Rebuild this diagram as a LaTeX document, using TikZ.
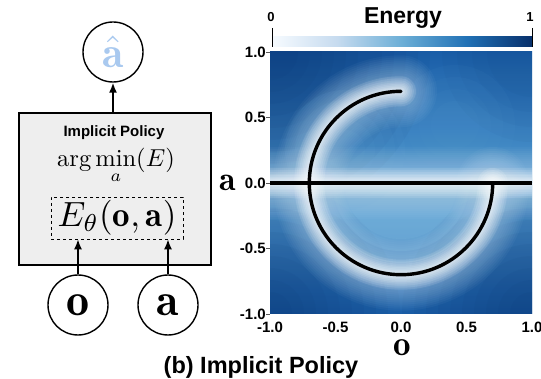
\documentclass[tikz,border=0pt]{standalone}
\usepackage{amsmath}
\usepackage{graphicx}
\usepackage{fontspec}
\newfontfamily\sansf{Liberation Sans}
\usetikzlibrary{arrows.meta}
\definecolor{hatblue}{HTML}{A9C9EF}
\definecolor{boxgray}{HTML}{EEEEEE}
\definecolor{bA}{HTML}{F7FBFF}
\definecolor{bB}{HTML}{C6DBEF}
\definecolor{bC}{HTML}{6BAED6}
\definecolor{bD}{HTML}{2171B5}
\definecolor{bE}{HTML}{08306B}
\definecolor{hdark}{HTML}{1A5EA8}
\definecolor{hmid}{HTML}{5A9FD2}
\definecolor{hlight}{HTML}{4F98CF}
\definecolor{hlight2}{HTML}{5DA3D5}
\definecolor{cdark}{HTML}{08306B}
\definecolor{semi}{HTML}{85BEE2}
\definecolor{glowc}{HTML}{C4DDF1}
\pgfdeclarehorizontalshading{bluesbar}{100bp}{color(0bp)=(bA); color(25bp)=(bA); color(37.5bp)=(bB); color(50bp)=(bC); color(62.5bp)=(bD); color(75bp)=(bE); color(100bp)=(bE)}
\tikzset{
  var/.style={circle, draw, line width=1.4pt, minimum size=60pt, inner sep=0pt},
  policybox/.style={draw, line width=1.6pt, fill=boxgray, minimum width=192pt, minimum height=152pt, inner sep=0pt},
  energybox/.style={draw, dashed, line width=0.7pt, minimum width=132pt, minimum height=42pt, inner sep=0pt},
  arr/.style={line width=1.6pt, -{Latex[length=10pt,width=8pt]}},
  ticklab/.style={font=\sansf\bfseries\fontsize{15}{17}\selectfont, inner sep=0pt},
  curve/.style={black, line width=3.4pt},
  glow/.style={line cap=round},
}
\begin{document}
\begin{tikzpicture}[x=1pt,y=1pt]
\useasboundingbox (0,0) rectangle (541,-379);
% ---------------- left panel ----------------
\node[policybox] (box) at (115,-189) {};
\node[energybox] (ebox) at (117,-218) {};
\node[inner sep=0pt] (etext) at (117,-218) {\scalebox{3.5}{$E_\theta(\mathbf{o},\mathbf{a})$}};
\node[font=\sansf\bfseries\fontsize{15}{17}\selectfont, inner sep=0pt] (title) at (114,-133) {Implicit Policy};
\node[inner sep=0pt] (argmin) at (116,-166) {\scalebox{2.45}{$\displaystyle\arg\min_a(E)$}};
\node[var] (ahat) at (113,-52) {\scalebox{4.4}{$\color{hatblue}\hat{\mathbf{a}}$}};
\node[var] (o) at (78,-305) {\scalebox{4.6}{$\mathbf{o}$}};
\node[var] (a) at (168,-305) {\scalebox{4.6}{$\mathbf{a}$}};
\draw[arr] (box.north -| ahat) -- (ahat.south);
\draw[arr] (o.north) -- (o.north |- ebox.south);
\draw[arr] (a.north) -- (a.north |- ebox.south);
% ---------------- heatmap ----------------
\begin{scope}
\clip (270,-52) rectangle (532,-314);
\shade[top color=hdark, bottom color=hlight] (270,-52) rectangle (532,-183);
\shade[top color=hlight2, bottom color=hdark] (270,-183) rectangle (532,-314);
\foreach \r in {160,148,136,124,112,100,88,76,64,52,40,28} \fill[cdark,opacity=0.055] (270,-52) circle (\r);
\foreach \r in {130,118,106,94,82,70,58,46,34,22} \fill[cdark,opacity=0.055] (270,-314) circle (\r);
\foreach \r in {130,118,106,94,82,70,58,46,34,22} \fill[cdark,opacity=0.055] (532,-314) circle (\r);
\foreach \r in {90,75,60,45} \fill[cdark,opacity=0.035] (532,-52) circle (\r);
\foreach \r in {91.7,80,68,56} \fill[semi,opacity=0.2] (401,-183) ++(-\r,0) arc (180:360:\r) -- cycle;
\foreach \r in {60,50,40,30,20} \fill[hmid,opacity=0.09] (345,-150) circle (\r);
\foreach \r in {60,48,36,24} \fill[hmid,opacity=0.06] (455,-125) circle (\r);
\foreach \w in {72,68,64,60,56,52,48,44,40,36,32,28,24,20,16,12,8} {
  \draw[glow, glowc, line width=\w, opacity=0.045] (270,-183) -- (532,-183);
  \draw[glow, glowc, line width=\w, opacity=0.045] (401,-91.3) arc (90:360:91.7);
}
\foreach \w in {30,26,22,18,15,12,9,7} {
  \draw[glow, white, line width=\w, opacity=0.12] (270,-183) -- (532,-183);
  \draw[glow, white, line width=\w, opacity=0.12] (401,-91.3) arc (90:360:91.7);
}
\draw[curve] (270,-183) -- (532,-183);
\draw[curve, line cap=round] (401,-91.3) arc (90:360:91.7);
\end{scope}
% axis ticks and labels
\foreach \v/\t in {0/1.0,0.5/0.5,1/0.0,1.5/-0.5,2/-1.0} {
  \draw[gray!70!black, line width=0.6pt] (266,{-52-131*\v}) -- (270,{-52-131*\v});
  \node[ticklab, anchor=east] at (266,{-52-131*\v}) {\t};
}
\foreach \v/\t in {0/-1.0,0.5/-0.5,1/0.0,1.5/0.5,2/1.0} {
  \node[ticklab] at ({270+131*\v},-327) {\t};
}
\node[inner sep=0pt] (alab) at (228,-183) {\scalebox{3.4}{$\mathbf{a}$}};
\node[inner sep=0pt] (olab) at (402,-348) {\scalebox{3.5}{$\mathbf{o}$}};
% colorbar
\shade[shading=bluesbar] (272,-37) rectangle (532,-47);
\draw[line width=0.7pt] (272,-28) -- (272,-47);
\draw[line width=0.7pt] (532,-28) -- (532,-47);
\node[font=\sansf\bfseries\fontsize{13}{15}\selectfont, inner sep=0pt] at (271,-17) {0};
\node[font=\sansf\bfseries\fontsize{13}{15}\selectfont, inner sep=0pt] at (530,-17) {1};
\node[font=\sansf\bfseries\fontsize{23}{25}\selectfont, inner sep=0pt] at (403,-18) {Energy};
% caption
\node[font=\sansf\bfseries\fontsize{23.5}{26}\selectfont, inner sep=0pt] at (261,-367) {(b) Implicit Policy};
\end{tikzpicture}
\end{document}
